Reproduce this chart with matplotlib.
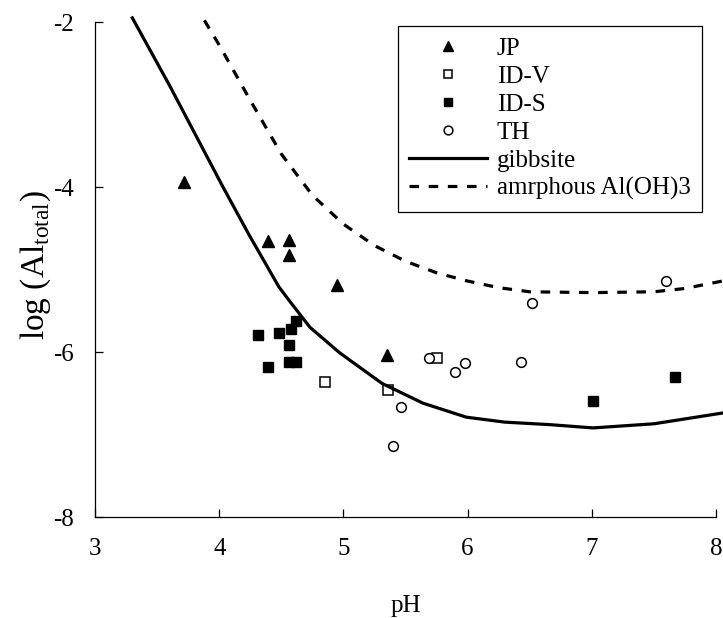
import matplotlib
matplotlib.use("Agg")
import matplotlib.pyplot as plt

plt.rcParams['font.family'] = ['Liberation Serif', 'DejaVu Serif']
plt.rcParams['mathtext.fontset'] = 'custom'
plt.rcParams['mathtext.rm'] = 'Liberation Serif'

# Data
jp_ph = [3.72, 4.39, 4.56, 4.56, 4.95, 5.35]
jp_al = [-3.94, -4.65, -4.64, -4.83, -5.19, -6.04]

idv_ph = [4.85, 5.36, 5.75]
idv_al = [-6.36, -6.46, -6.07]

ids_ph = [4.31, 4.48, 4.58, 4.62, 4.56, 4.39, 4.56, 4.62, 7.01, 7.67]
ids_al = [-5.79, -5.77, -5.72, -5.62, -5.92, -6.18, -6.12, -6.12, -6.59, -6.30]

th_ph = [5.69, 5.98, 5.90, 6.43, 5.46, 5.40, 6.52, 7.60]
th_al = [-6.07, -6.13, -6.24, -6.12, -6.67, -7.14, -5.41, -5.14]

gib_ph = [3.30, 3.60, 4.03, 4.24, 4.48, 4.56, 4.73, 4.97, 5.31, 5.64, 5.99, 6.30, 6.66, 7.01, 7.50, 8.05]
gib_al = [-1.95, -2.77, -4.00, -4.58, -5.21, -5.37, -5.70, -6.01, -6.38, -6.62, -6.79, -6.85, -6.88, -6.92, -6.87, -6.74]

amo_ph = [3.88, 4.00, 4.25, 4.50, 4.75, 5.00, 5.25, 5.50, 5.75, 6.00, 6.25, 6.50, 7.00, 7.50, 7.75, 8.05]
amo_al = [-1.98, -2.28, -2.95, -3.60, -4.10, -4.45, -4.71, -4.90, -5.04, -5.14, -5.22, -5.27, -5.28, -5.27, -5.23, -5.14]

xticks = [3, 4, 5, 6, 7, 8]
yticks = [-2, -4, -6, -8]

fig = plt.figure(figsize=(7.23, 6.18), dpi=100)
ax = fig.add_axes([0.1315, 0.1634, 0.8588, 0.8010])

ax.plot(jp_ph, jp_al, linestyle='none', marker='^', markersize=8.5, color='black', label='JP')
ax.plot(idv_ph, idv_al, linestyle='none', marker='s', markersize=7, markerfacecolor='white',
        markeredgecolor='black', markeredgewidth=1.1, label='ID-V')
ax.plot(ids_ph, ids_al, linestyle='none', marker='s', markersize=7, color='black', label='ID-S')
ax.plot(th_ph, th_al, linestyle='none', marker='o', markersize=7, markerfacecolor='white',
        markeredgecolor='black', markeredgewidth=1.1, label='TH')
ax.plot(gib_ph, gib_al, color='black', linewidth=2.3, label='gibbsite', clip_on=False)
ax.plot(amo_ph, amo_al, color='black', linewidth=2.3, linestyle=(0, (3, 3)),
        label='amrphous Al(OH)3', clip_on=False)

ax.set_xlim(3, 8)
ax.set_ylim(-8, -2)
ax.set_xticks(xticks)
ax.set_yticks(yticks)
ax.set_xticklabels([str(v) for v in xticks])
ax.set_yticklabels([str(v) for v in yticks])
ax.spines['top'].set_visible(False)
ax.spines['right'].set_visible(False)
for s in ['left', 'bottom']:
    ax.spines[s].set_linewidth(0.9)
ax.tick_params(axis='both', direction='in', length=6, width=0.9, labelsize=18)
ax.tick_params(axis='x', pad=15)
ax.tick_params(axis='y', pad=15.5)

ax.set_xlabel('pH', fontsize=18, labelpad=25)
ax.set_ylabel(r'log (Al$_{\mathrm{total}}$)', fontsize=24)
ax.yaxis.set_label_coords(-0.068, 0.51)

leg = ax.legend(loc='upper right', bbox_to_anchor=(0.9775, 0.992), borderaxespad=0,
                fontsize=18, frameon=True,
                fancybox=False, edgecolor='black', framealpha=1, handlelength=3.1,
                labelspacing=0.22, borderpad=0.45, markerscale=0.9, handletextpad=0.4)
leg.get_frame().set_linewidth(0.9)

fig.savefig('out.png', dpi=100)
